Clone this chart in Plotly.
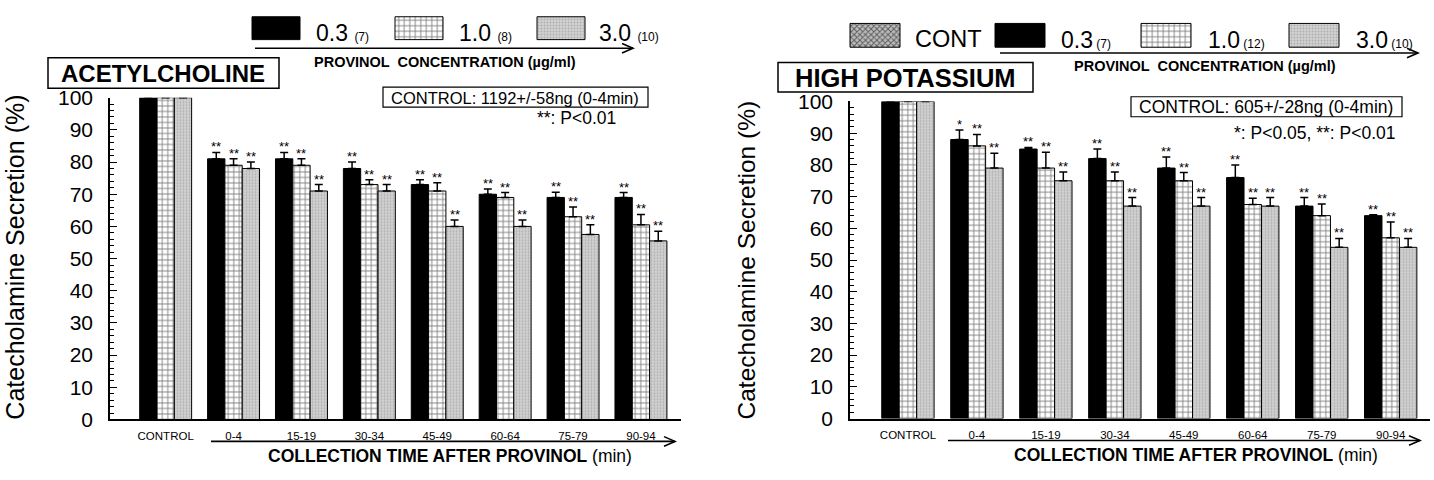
import plotly.graph_objects as go

W, H = 1434, 480
FONT = "Liberation Sans, Arial, Helvetica, sans-serif"

# ---------------- data ----------------
categories = ["CONTROL", "0-4", "15-19", "30-34", "45-49", "60-64", "75-79", "90-94"]
conc_labels = ["0.3", "1.0", "3.0"]
ach_n = ["(7)", "(8)", "(10)"]
k_n = ["(7)", "(12)", "(10)"]

ach_03 = [100, 81, 81, 78, 73, 70, 69, 69]
ach_03_err = [0, 2, 2, 2, 1.5, 1.6, 1.6, 1.5]
ach_10 = [100, 79, 79, 73, 71, 69, 63, 60.5]
ach_10_err = [0, 2, 2, 1.5, 2.6, 1.5, 3, 3.2]
ach_30 = [100, 78, 71, 71, 60, 60, 57.5, 55.5]
ach_30_err = [0, 2, 2, 2, 2, 2, 3, 3]
ach_sig_03 = ["", "**", "**", "**", "**", "**", "**", "**"]
ach_sig_10 = ["", "**", "**", "**", "**", "**", "**", "**"]
ach_sig_30 = ["", "**", "**", "**", "**", "**", "**", "**"]

k_03 = [100, 88, 85, 82, 79, 76, 67, 64]
k_03_err = [0, 3, 0.5, 3, 3.5, 4, 2.7, 0.3]
k_10 = [100, 86, 79, 75, 75, 67.5, 64, 57]
k_10_err = [0, 3.6, 5, 2.8, 2.6, 2, 3.7, 5]
k_30 = [100, 79, 75, 67, 67, 67, 54, 54]
k_30_err = [0, 4.7, 2.8, 2.7, 2.7, 2.7, 2.8, 2.8]
k_sig_03 = ["", "*", "**", "**", "**", "**", "**", "**"]
k_sig_10 = ["", "**", "**", "**", "**", "**", "**", "**"]
k_sig_30 = ["", "**", "**", "**", "**", "**", "**", "**"]

# ---------------- styles ----------------
STYLES = [
    dict(color="black", line=dict(color="black", width=1)),
    dict(color="white", line=dict(color="black", width=1),
         pattern=dict(shape="+", fgcolor="black", bgcolor="white", size=5.5, solidity=0.3)),
    dict(color="#cfcfcf", line=dict(color="black", width=1),
         pattern=dict(shape=".", fgcolor="#888888", bgcolor="#d2d2d2", size=3, solidity=0.3)),
]
CONT_STYLE = dict(color="#999", line=dict(color="black", width=1),
                  pattern=dict(shape="x", fgcolor="black", bgcolor="#bdbdbd", size=4, solidity=0.45))

fig = go.Figure()
annotations = []
shapes = []


def add_panel(series, errs, sigs, xa, ya, w):
    for j, (vals, err, sig) in enumerate(zip(series, errs, sigs)):
        xs = [i + (j - 1) * w for i in range(len(categories))]
        fig.add_trace(go.Bar(
            x=xs, y=vals, width=w, marker=STYLES[j], xaxis=xa, yaxis=ya,
            showlegend=False,
            error_y=dict(type="data", symmetric=False, array=err,
                         arrayminus=[0] * len(err), color="black",
                         thickness=1.5, width=4),
        ))
        for x, v, e, s in zip(xs, vals, err, sig):
            if s:
                annotations.append(dict(
                    x=x, y=v + e, xref=xa, yref=ya, text=s, showarrow=False,
                    yanchor="bottom", yshift=-4,
                    font=dict(family=FONT, size=13, color="black")))


add_panel([ach_03, ach_10, ach_30], [ach_03_err, ach_10_err, ach_30_err],
          [ach_sig_03, ach_sig_10, ach_sig_30], "x", "y", 0.255)
add_panel([k_03, k_10, k_30], [k_03_err, k_10_err, k_30_err],
          [k_sig_03, k_sig_10, k_sig_30], "x2", "y2", 0.253)

# ---------------- overlay (pixel) layer for legend / labels ----------------
def swatch(x0, y0, wpx, hpx, marker):
    fig.add_trace(go.Bar(x=[x0 + wpx / 2], y=[hpx], base=[y0], width=[wpx],
                         marker=marker, xaxis="x3", yaxis="y3", showlegend=False,
                         hoverinfo="skip"))


def text(x, y, s, size, xanchor="center", angle=0):
    annotations.append(dict(x=x, y=y, xref="x3", yref="y3", text=s, showarrow=False,
                            xanchor=xanchor, yanchor="middle", textangle=angle,
                            font=dict(family=FONT, size=size, color="black")))


def arrow(x0, x1, y):
    shapes.append(dict(type="line", xref="x3", yref="y3", x0=x0, x1=x1, y0=y, y1=y,
                       line=dict(color="black", width=1.6)))
    shapes.append(dict(type="path", xref="x3", yref="y3",
                       path=f"M {x1-11},{y-5} L {x1},{y} L {x1-11},{y+5}",
                       line=dict(color="black", width=1.6)))


def rect(x0, y0, x1, y1, wd=1.5):
    shapes.append(dict(type="rect", xref="x3", yref="y3", x0=x0, x1=x1, y0=y0, y1=y1,
                       line=dict(color="black", width=wd)))


# left legend
for xb, xt, lab, n, st in zip([252, 395, 537], [314, 457, 597], conc_labels, ach_n, STYLES):
    swatch(xb, 5, 48, 24, st)
    text(xt, 22, f"{lab} <span style='font-size:12px'>{n}</span>", 23, "left")
arrow(255, 633, 38)
text(445, 52, "<b>PROVINOL  CONCENTRATION (µg/ml)</b>", 14.5)

# right legend
swatch(850, 12, 50, 25, CONT_STYLE)
text(913, 28, "CONT", 23.5, "left")
for xb, xt, lab, n, st in zip([995, 1141, 1289], [1059, 1206, 1354], conc_labels, k_n, STYLES):
    swatch(xb, 12, 50, 25, st)
    text(xt, 29, f"{lab}<span style='font-size:12px'> {n}</span>", 23, "left")
arrow(1000, 1418, 43)
text(1205, 57, "<b>PROVINOL  CONCENTRATION (µg/ml)</b>", 14.5)

# panel titles
rect(48, 48, 279, 80)
text(163, 64.5, "<b>ACETYLCHOLINE</b>", 24)
rect(778, 53, 1033, 84)
text(905, 69, "<b>HIGH POTASSIUM</b>", 25.5)

# control boxes
rect(383, 79, 648, 100, 1.2)
text(515, 90, "CONTROL: 1192+/-58ng (0-4min)", 16.5)
text(618, 111, "**: P<0.01", 17.5, "right")
rect(1131, 89, 1402, 110, 1.2)
text(1266, 99.5, "CONTROL: 605+/-28ng (0-4min)", 17.5)
text(1398, 127, "*: P<0.05, **: P<0.01", 17.5, "right")

# bottom arrows and titles
arrow(211, 675, 451)
text(450, 466, "<b>COLLECTION TIME AFTER PROVINOL</b> (min)", 17.5)
arrow(948, 1420, 450)
text(1196, 465, "<b>COLLECTION TIME AFTER PROVINOL</b> (min)", 17.5)

# y titles
text(15, 258, "Catecholamine Secretion (%)", 25, angle=-90)
text(746, 261, "Catecholamine Secretion (%)", 24.5, angle=-90)


def xax(domain, rng):
    return dict(domain=domain, range=rng, tickvals=list(range(len(categories))),
                ticktext=categories, showline=True, linecolor="black", linewidth=1.5,
                ticks="", showgrid=False, zeroline=False, fixedrange=True,
                ticklabelstandoff=5,
                tickfont=dict(family=FONT, size=11.5, color="black"))


def yax(domain, anchor):
    return dict(domain=domain, range=[0, 100], dtick=10, ticks="inside", ticklen=7,
                tickwidth=1, tickcolor="black", showline=True, linecolor="black",
                linewidth=1.5, showgrid=False, zeroline=False, anchor=anchor,
                fixedrange=True, ticklabelstandoff=11,
                minor=dict(dtick=2, ticks="inside", ticklen=4, tickcolor="black",
                           showgrid=False),
                tickfont=dict(family=FONT, size=21, color="black"))


fig.update_layout(
    width=W, height=H, margin=dict(l=0, r=0, t=0, b=0),
    paper_bgcolor="white", plot_bgcolor="rgba(0,0,0,0)",
    barmode="overlay", showlegend=False,
    xaxis=dict(xax([110 / W, 681 / W], [-0.82, 7.59]), anchor="y"),
    yaxis=yax([(H - 428) / H, (H - 90) / H], "x"),
    xaxis2=dict(xax([850 / W, 1430 / W], [-0.84, 7.57]), anchor="y2"),
    yaxis2=yax([(H - 427) / H, (H - 94) / H], "x2"),
    xaxis3=dict(domain=[0, 1], range=[0, W], visible=False, anchor="y3", fixedrange=True),
    yaxis3=dict(domain=[0, 1], range=[H, 0], visible=False, anchor="x3", fixedrange=True),
    annotations=annotations, shapes=shapes,
)

fig.write_html("out.html")
